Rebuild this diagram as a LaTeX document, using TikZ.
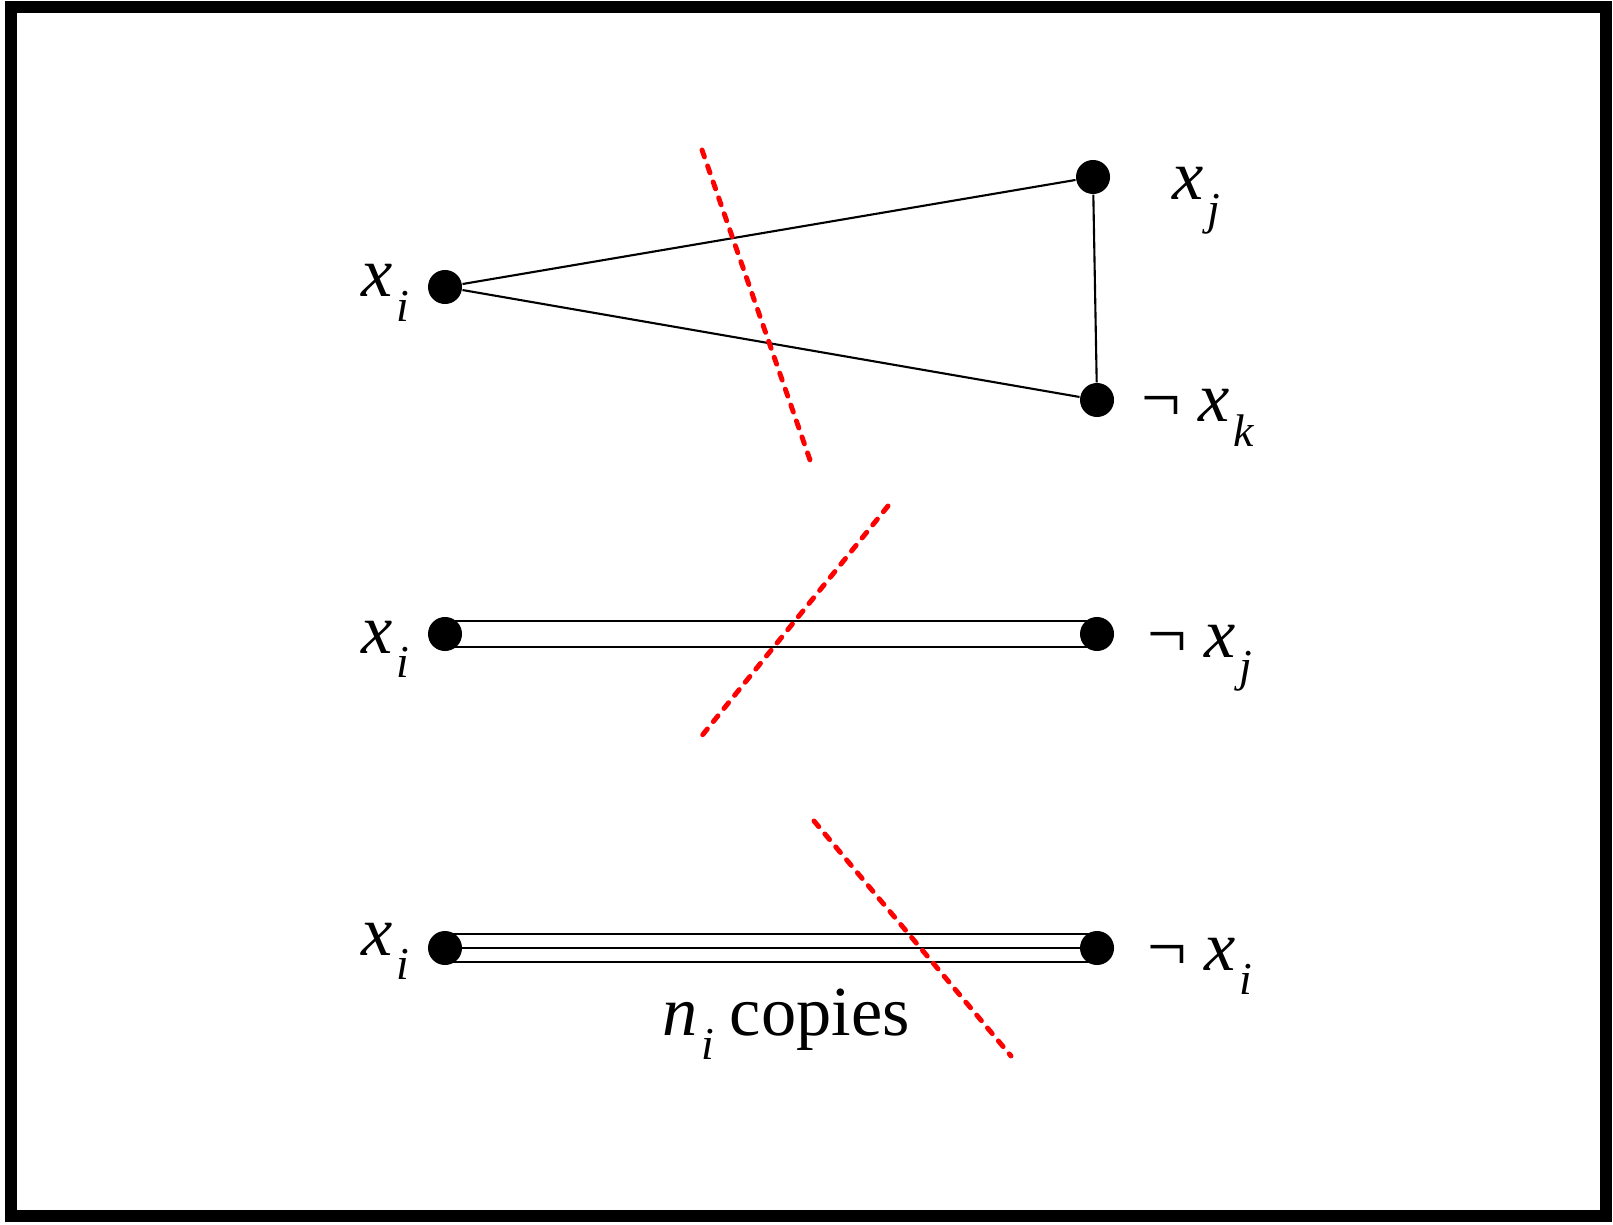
\documentclass[tikz,border=0pt]{standalone}
\usepackage{fontspec}
\setmainfont{Liberation Serif}
\usetikzlibrary{positioning}
\newcommand{\sublab}[2]{\textit{#1}\kern1pt\raisebox{-7pt}{\fontsize{13}{13}\selectfont\textit{#2}}}

\begin{document}
\begin{tikzpicture}[x=0.01cm, y=-0.01cm,
  dot/.style={circle, fill=black, inner sep=0pt, minimum size=0.34cm},
  lab/.style={inner sep=0pt, anchor=base west, font=\fontsize{20}{24}\selectfont},
  wire/.style={line width=0.6pt},
  cutline/.style={red, line width=1.4pt, line cap=round, dash pattern=on 2.1pt off 2.7pt}]
\useasboundingbox (0,0) rectangle (1613,1225);
\draw[line width=0.12cm] (11,7) rectangle (1606,1216);

% triangle: x_i, x_j, not x_k
\node[dot] (ti) at (445,287) {};
\node[dot] (tj) at (1093,177) {};
\node[dot] (tk) at (1097,400) {};
\draw[wire] (ti) -- (tj);
\draw[wire] (ti) -- (tk);
\draw[wire] (tj) -- (tk);
\node[lab] (til) at (361,297) {\sublab{x}{i}};
\node[lab] (tjl) at (1172,200) {\sublab{x}{j}};
\node[lab] (tkl) at (1141,422) {¬ \sublab{x}{k}};
\coordinate (cuta) at (702,150);
\coordinate (cutb) at (810,460);
\draw[cutline] (cuta) -- (cutb);

% double edge: x_i, not x_j
\node[dot] (mi) at (445,634) {};
\node[dot] (mj) at (1097,634) {};
\foreach \o in {-0.13,0.13}
  \draw[wire] ([yshift=\o cm]mi.center) -- ([yshift=\o cm]mj.center);
\node[lab] (mil) at (361,653) {\sublab{x}{i}};
\node[lab] (mjl) at (1147,657) {¬ \sublab{x}{j}};
\coordinate (cutc) at (888,506);
\coordinate (cutd) at (700,738);
\draw[cutline] (cutc) -- (cutd);

% n_i parallel edges: x_i, not x_i
\node[dot] (bi) at (445,948) {};
\node[dot] (bn) at (1097,948) {};
\foreach \o in {-0.14,0,0.14}
  \draw[wire] ([yshift=\o cm]bi.center) -- ([yshift=\o cm]bn.center);
\node[lab] (bil) at (361,955) {\sublab{x}{i}};
\node[lab] (bnl) at (1147,970) {¬ \sublab{x}{i}};
\node[lab] (copies) at (662,1035) {\sublab{n}{i}\hspace{4.5pt}copies};
\coordinate (cute) at (814,821);
\coordinate (cutf) at (1011,1056);
\draw[cutline] (cute) -- (cutf);
\end{tikzpicture}
\end{document}
